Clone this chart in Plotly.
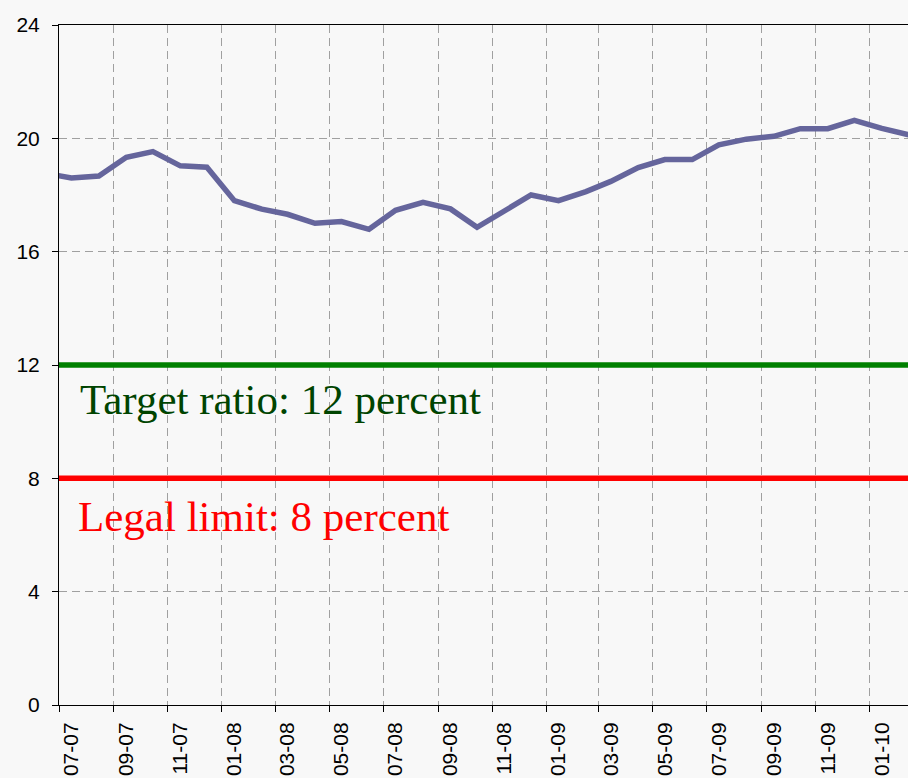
import plotly.graph_objects as go

# Monthly capital ratio (percent), observations dated mid-month
months = [
    "2007-06-15", "2007-07-15", "2007-08-15", "2007-09-15", "2007-10-15", "2007-11-15", "2007-12-15",
    "2008-01-15", "2008-02-15", "2008-03-15", "2008-04-15", "2008-05-15", "2008-06-15",
    "2008-07-15", "2008-08-15", "2008-09-15", "2008-10-15", "2008-11-15", "2008-12-15",
    "2009-01-15", "2009-02-15", "2009-03-15", "2009-04-15", "2009-05-15", "2009-06-15",
    "2009-07-15", "2009-08-15", "2009-09-15", "2009-10-15", "2009-11-15", "2009-12-15",
    "2010-01-15", "2010-02-15",
]
ratio = [
    18.77, 18.60, 18.67, 19.33, 19.53, 19.03, 18.98,
    17.80, 17.50, 17.32, 17.00, 17.06, 16.79,
    17.46, 17.74, 17.51, 16.86, 17.46, 18.00,
    17.80, 18.12, 18.48, 18.97, 19.25, 19.25,
    19.77, 19.97, 20.07, 20.34, 20.34, 20.63,
    20.35, 20.12,
]

# Reference levels
TARGET_RATIO = 12
LEGAL_LIMIT = 8

# Tick marks / grid at the start of every second month, labels centred on the month
grid_months = [
    "2007-07-01", "2007-09-01", "2007-11-01", "2008-01-01", "2008-03-01", "2008-05-01",
    "2008-07-01", "2008-09-01", "2008-11-01", "2009-01-01", "2009-03-01", "2009-05-01",
    "2009-07-01", "2009-09-01", "2009-11-01", "2010-01-01",
]
label_months = [
    "2007-07-15", "2007-09-15", "2007-11-15", "2008-01-15", "2008-03-15", "2008-05-15",
    "2008-07-15", "2008-09-15", "2008-11-15", "2009-01-15", "2009-03-15", "2009-05-15",
    "2009-07-15", "2009-09-15", "2009-11-15", "2010-01-15",
]
tick_labels = [
    "07-07", "09-07", "11-07", "01-08", "03-08", "05-08", "07-08", "09-08",
    "11-08", "01-09", "03-09", "05-09", "07-09", "09-09", "11-09", "01-10",
]

BG = "#f8f8f8"
GRID = "#a0a0a0"

fig = go.Figure()

fig.add_trace(go.Scatter(
    x=months, y=ratio, mode="lines",
    line=dict(color="#65659c", width=5.5),
    hoverinfo="x+y", showlegend=False,
))

fig.add_shape(type="line", xref="paper", x0=0, x1=1, yref="y",
              y0=TARGET_RATIO, y1=TARGET_RATIO,
              line=dict(color="#008000", width=5.5))
fig.add_shape(type="line", xref="paper", x0=0, x1=1, yref="y",
              y0=LEGAL_LIMIT, y1=LEGAL_LIMIT,
              line=dict(color="#ff0000", width=5.5))

fig.add_annotation(
    text=f"Target ratio: {TARGET_RATIO} percent",
    xref="paper", x=0.022, xanchor="left",
    yref="y", y=TARGET_RATIO - 1.2, yanchor="middle",
    showarrow=False,
    font=dict(family="Liberation Serif", size=43, color="#004400"),
)
fig.add_annotation(
    text=f"Legal limit: {LEGAL_LIMIT} percent",
    xref="paper", x=0.020, xanchor="left",
    yref="y", y=LEGAL_LIMIT - 1.35, yanchor="middle",
    showarrow=False,
    font=dict(family="Liberation Serif", size=43, color="#ff0000"),
)

fig.update_layout(
    width=908, height=778,
    margin=dict(l=59, r=0, t=25, b=73),
    paper_bgcolor=BG, plot_bgcolor=BG,
    font=dict(family="Liberation Sans, Arial", size=21, color="#000000"),
)

fig.update_xaxes(
    type="date",
    range=["2007-07-01", "2010-02-13 14:00"],
    tickmode="array", tickvals=label_months, ticktext=tick_labels,
    tickangle=-90, ticks="", showgrid=False,
    ticklabelstandoff=8,
    tickfont=dict(family="Liberation Sans, Arial", size=21, color="#000000"),
    showline=True, linecolor="#000000", linewidth=1, mirror=True,
    zeroline=False,
    minor=dict(
        tickmode="array", tickvals=grid_months,
        ticks="outside", ticklen=6, tickcolor="#000000", tickwidth=1,
        showgrid=True, gridcolor=GRID, gridwidth=1, griddash="8px,5px",
    ),
)

fig.update_yaxes(
    range=[0, 24], tickmode="linear", tick0=0, dtick=4,
    ticks="outside", ticklen=6, tickcolor="#000000", tickwidth=1,
    ticklabelstandoff=8,
    tickfont=dict(family="Liberation Sans, Arial", size=21, color="#000000"),
    showgrid=True, gridcolor=GRID, gridwidth=1, griddash="8px,5px",
    showline=True, linecolor="#000000", linewidth=1,
    zeroline=False,
)

fig.write_html("out.html")
